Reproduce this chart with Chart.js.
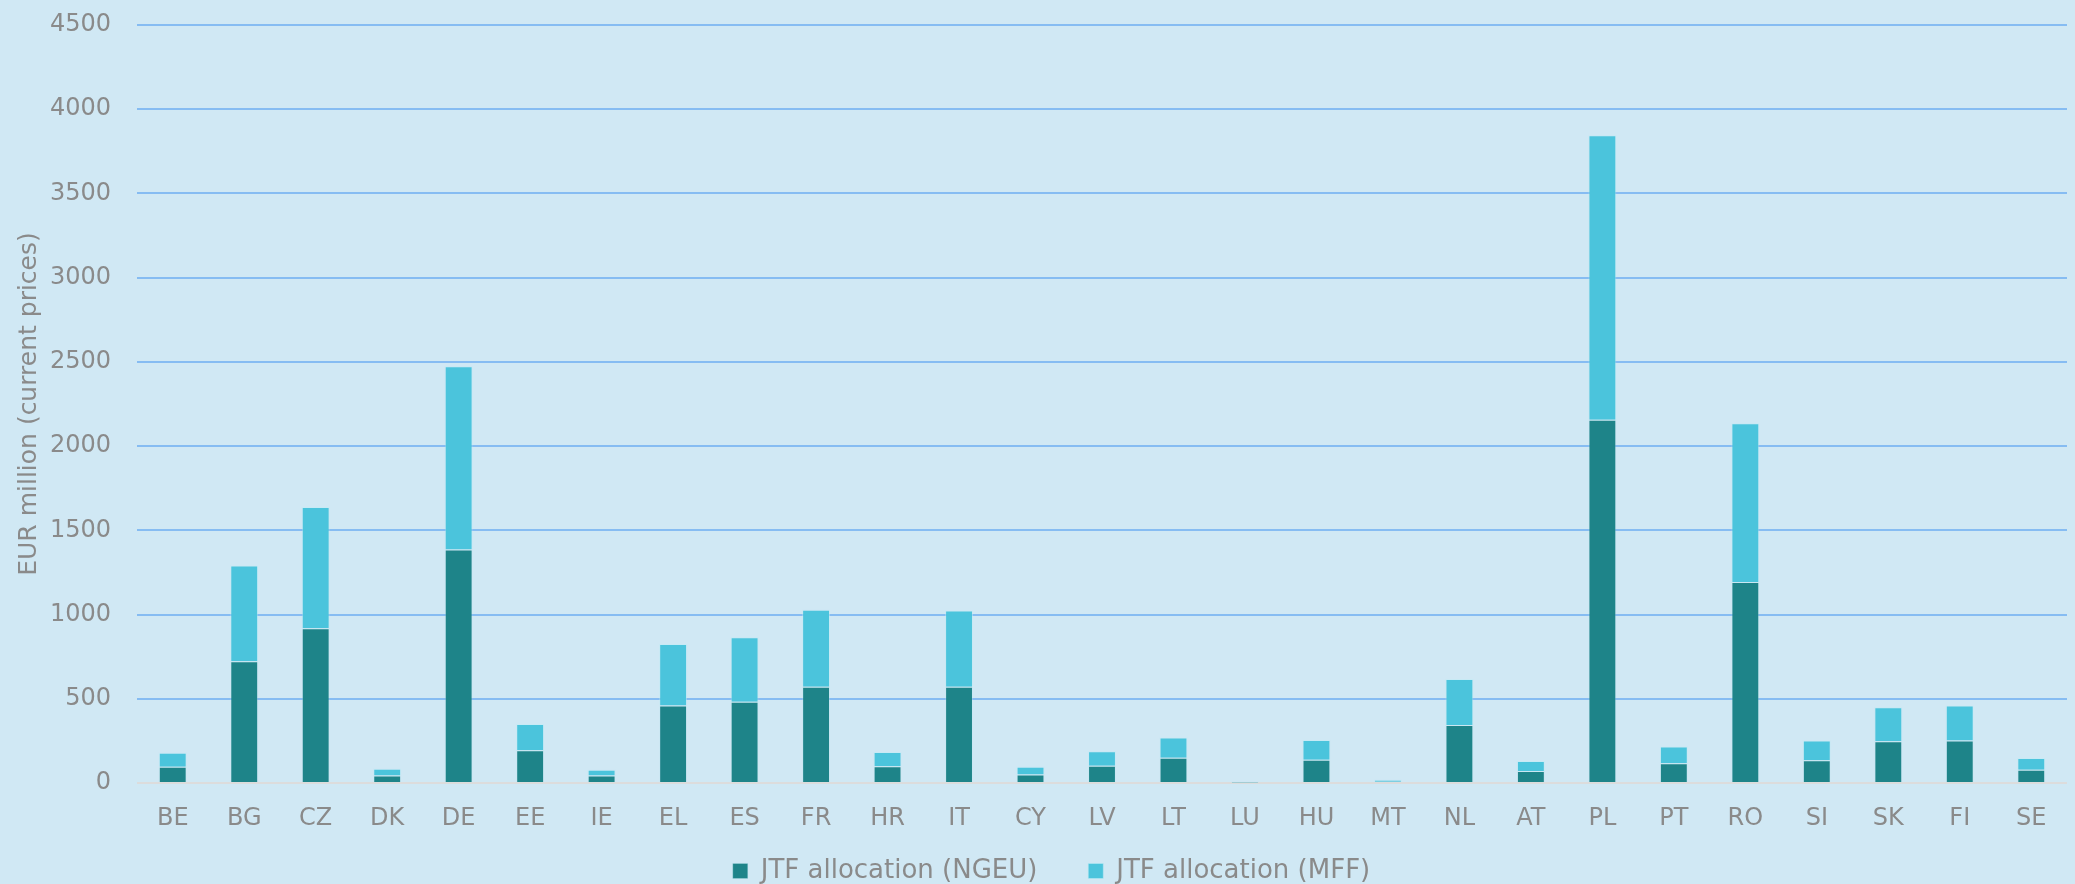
<!DOCTYPE html>
<html>
<head>
<meta charset="utf-8">
<script src="https://cdn.jsdelivr.net/npm/chart.js@4/dist/chart.umd.min.js"></script>
<style>
  html, body { margin: 0; padding: 0; background: #d0e8f4; }
  #wrap { width: 2075px; height: 884px; position: relative; }
</style>
</head>
<body>
<div id="wrap"><canvas id="myChart"></canvas></div>
<script>
const countries = ["BE", "BG", "CZ", "DK", "DE", "EE", "IE", "EL", "ES", "FR", "HR", "IT", "CY", "LV",
  "LT", "LU", "HU", "MT", "NL", "AT", "PL", "PT", "RO", "SI", "SK", "FI", "SE"];
// EUR million, current prices
const ngeu = [97, 723, 919, 44, 1386, 194, 44, 460, 483, 572, 99, 572, 51, 102,
  150, 3, 138, 8, 345, 71, 2157, 117, 1194, 135, 248, 252, 79];
const mff = [83, 568, 719, 41, 1088, 156, 35, 365, 382, 456, 85, 452, 46, 86,
  120, 5, 118, 11, 273, 59, 1689, 99, 941, 117, 202, 208, 70];
const yTicks = [0, 500, 1000, 1500, 2000, 2500, 3000, 3500, 4000, 4500];

const grey = "#8a8a8a";
const font = "'DejaVu Sans', Verdana, sans-serif";

const ctx = document.getElementById("myChart");
const myChart = new Chart(ctx, {
  type: "bar",
  data: {
    labels: countries,
    datasets: [
      {
        label: "JTF allocation (NGEU)",
        data: ngeu,
        backgroundColor: "#1e8489",
        borderColor: "rgba(190,230,240,0.3)",
        borderWidth: 1,
        categoryPercentage: 1,
        barPercentage: 0.39,
      },
      {
        label: "JTF allocation (MFF)",
        data: mff,
        backgroundColor: "#4bc4dc",
        borderColor: "rgba(190,235,245,0.5)",
        borderWidth: 1,
        categoryPercentage: 1,
        barPercentage: 0.39,
      },
    ],
  },
  options: {
    responsive: true,
    maintainAspectRatio: false,
    animation: false,
    layout: { padding: { top: 25, right: 8, left: 36, bottom: -10 } },
    plugins: {
      legend: {
        position: "bottom",
        labels: {
          color: grey,
          font: { family: font, size: 26 },
          boxWidth: 15,
          boxHeight: 15,
          padding: 26,
          // a little extra room between the two legend entries
          generateLabels: (chart) => {
            const items = Chart.defaults.plugins.legend.labels.generateLabels(chart);
            items[0].text += "   ";
            return items;
          },
        },
      },
      tooltip: { enabled: false },
    },
    scales: {
      x: {
        stacked: true,
        afterFit: (scale) => {
          scale.height = 49;
        },
        grid: { display: false },
        border: { display: false },
        ticks: {
          color: grey,
          font: { family: font, size: 24 },
          padding: 13,
          maxRotation: 0,
          autoSkip: false,
        },
      },
      y: {
        stacked: true,
        min: 0,
        max: 4500,
        afterBuildTicks: (scale) => {
          scale.ticks = yTicks.map((v) => ({ value: v }));
        },
        afterFit: (scale) => {
          scale.width = 101;
          scale.paddingTop = 0;
          scale.paddingBottom = 0;
        },
        grid: {
          drawTicks: false,
          lineWidth: 2,
          color: (c) => (c.tick && c.tick.value === 0 ? "#dcdcdc" : "#86bcf2"),
        },
        border: { display: false },
        ticks: {
          color: grey,
          font: { family: font, size: 24 },
          padding: 26,
          callback: (v) => String(v),
        },
        title: {
          display: true,
          text: "EUR million (current prices)",
          color: grey,
          font: { family: font, size: 25 },
          padding: { top: -22, bottom: 0 },
        },
      },
    },
  },
});
</script>
</body>
</html>
